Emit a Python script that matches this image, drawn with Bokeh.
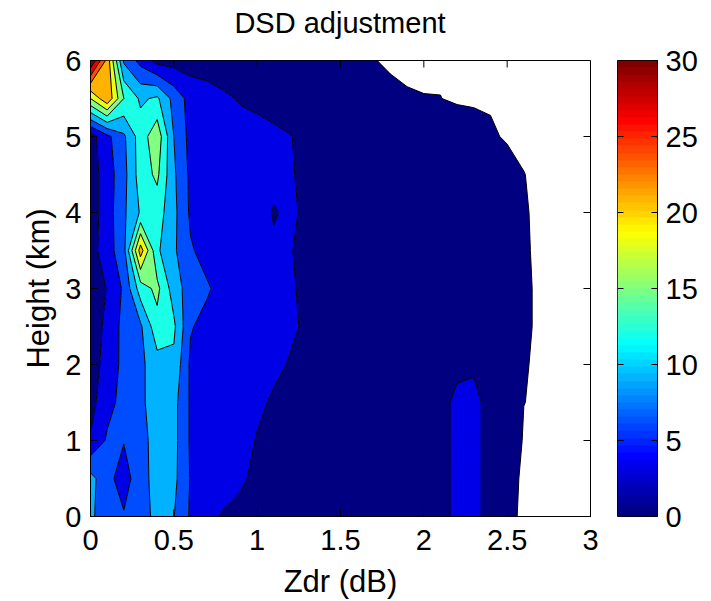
import numpy as np
from bokeh.plotting import figure
from bokeh.layouts import row, column
from bokeh.models import Range1d, FixedTicker, LinearColorMapper, Div
from bokeh.embed import file_html
from bokeh.resources import INLINE

# Zdr bin centres (dB) and height levels (km) of the frequency grid
zdr_bins = [0.0, 0.1, 0.2, 0.3, 0.4, 0.5, 0.6, 0.7, 0.8, 0.9,
            1.0, 1.1, 1.2, 1.3, 1.4, 1.5, 1.6, 1.7, 1.8, 1.9,
            2.0, 2.1, 2.2, 2.3, 2.4, 2.5, 2.6, 2.7]
height_bins = [0.0, 0.5, 1.0, 1.5, 2.0, 2.5, 3.0, 3.5, 4.0, 4.5, 5.0, 5.5, 6.0]

# Relative frequency (%) per Zdr bin, one list per height level
freq_h0_0 = [9.5, 7.5, 6.3, 7.8, 9.8, 9.1, 5.6, 3.6, 2.8, 2.6, 2.4, 2.3, 2.2, 2.2, 2.1, 2.1, 2.0, 2.0, 2.0, 2.0, 2.0, 2.6, 3.3, 3.4, 2.5, 0.5, 0, 0]
freq_h0_5 = [10.0, 7.0, 4.5, 8.0, 10.0, 9.8, 5.8, 4.6, 3.8, 3.2, 2.7, 2.5, 2.4, 2.3, 2.2, 2.2, 2.1, 2.1, 2.0, 2.0, 2.0, 2.6, 3.3, 3.4, 2.5, 0.67, 0, 0]
freq_h1_0 = [3.3, 6.4, 6.15, 7.8, 10.4, 10.0, 5.6, 4.7, 4.1, 3.6, 2.9, 2.6, 2.5, 2.4, 2.3, 2.2, 2.1, 2.1, 2.0, 2.0, 2.0, 2.6, 3.3, 3.4, 2.5, 2.0, 0, 0]
freq_h1_5 = [2.0, 5.0, 7.0, 8.4, 10.5, 10.0, 5.6, 4.8, 4.2, 3.8, 3.3, 2.8, 2.6, 2.5, 2.4, 2.3, 2.2, 2.1, 2.0, 2.0, 2.0, 2.6, 3.3, 3.4, 2.5, 1.6, 0.22, 0]
freq_h2_0 = [1.5, 4.2, 6.8, 8.3, 10.8, 11.3, 5.5, 4.9, 4.5, 4.0, 3.6, 3.3, 2.9, 2.6, 2.5, 2.4, 2.3, 2.2, 2.1, 2.0, 1.9, 1.9, 2.7, 2.8, 1.8, 1.5, 0.29, 0]
freq_h2_5 = [1.6, 3.6, 7.0, 8.5, 14.0, 12.6, 6.2, 5.2, 4.7, 4.2, 3.8, 3.5, 3.2, 2.8, 2.6, 2.5, 2.4, 2.3, 2.2, 2.1, 2.0, 1.9, 1.8, 1.8, 1.7, 1.5, 0.4, 0]
freq_h3_0 = [1.6, 3.1, 6.5, 13.5, 15.8, 10.5, 7.5, 6.3, 5.0, 4.3, 3.8, 3.4, 3.1, 2.8, 2.6, 2.5, 2.4, 2.3, 2.2, 2.1, 2.0, 1.9, 1.8, 1.8, 1.7, 1.5, 0.4, 0]
freq_h3_5 = [1.8, 4.6, 8.0, 22.5, 12.5, 9.5, 6.3, 5.0, 4.4, 4.0, 3.5, 3.2, 3.05, 2.7, 2.5, 2.4, 2.3, 2.2, 2.1, 2.0, 1.9, 1.8, 1.7, 1.6, 1.5, 1.3, 0.33, 0]
freq_h4_0 = [1.5, 4.5, 8.5, 12.3, 13.5, 9.8, 5.5, 4.7, 4.2, 3.9, 3.6, 2.9, 3.25, 2.7, 2.5, 2.4, 2.3, 2.2, 2.1, 2.0, 1.9, 1.8, 1.7, 1.6, 1.5, 1.2, 0.29, 0]
freq_h4_5 = [1.5, 4.5, 8.0, 13.5, 15.6, 9.5, 5.3, 4.6, 4.2, 3.9, 3.6, 3.4, 3.1, 2.7, 2.5, 2.4, 2.3, 2.2, 2.1, 2.0, 1.9, 1.8, 1.7, 1.6, 1.4, 1.0, 0.22, 0]
freq_h5_0 = [1.8, 5.2, 8.5, 13.5, 17.0, 9.0, 5.0, 4.5, 4.2, 3.9, 3.6, 3.3, 3.05, 2.6, 2.4, 2.3, 2.2, 2.1, 2.0, 1.9, 1.8, 1.6, 1.25, 0.83, 0.45, 0, 0, 0]
freq_h5_5 = [18.0, 23.5, 15.0, 11.5, 12.5, 8.0, 4.8, 4.2, 3.4, 2.8, 2.6, 2.4, 2.2, 2.0, 1.9, 1.6, 1.3, 0.9, 0.56, 0.29, 0.23, 0.22, 0, 0, 0, 0, 0, 0]
freq_h6_0 = [33.0, 23.0, 8.5, 5.0, 2.0, 1.8, 1.7, 1.6, 1.5, 1.4, 1.3, 1.2, 1.1, 1.0, 0.9, 0.7, 0.5, 0.25, 0, 0, 0, 0, 0, 0, 0, 0, 0, 0]

contour_levels = [0.2, 3, 6, 9, 12, 15, 18, 21, 24, 27, 30, 40]
cbar_ticks = [0, 5, 10, 15, 20, 25, 30]
x_ticks = [0, 0.5, 1, 1.5, 2, 2.5, 3]
x_tick_labels = ["0", "0.5", "1", "1.5", "2", "2.5", "3"]
y_ticks = [0, 1, 2, 3, 4, 5, 6]

freq = np.array([freq_h0_0, freq_h0_5, freq_h1_0, freq_h1_5, freq_h2_0, freq_h2_5,
                 freq_h3_0, freq_h3_5, freq_h4_0, freq_h4_5, freq_h5_0, freq_h5_5,
                 freq_h6_0], dtype=float)

CMIN, CMAX = 0.0, 30.0
X0, X1, Y0, Y1 = 0, 3, 0, 6
N_COLORS = 64


def jet(t):
    """MATLAB-style jet colormap value for t in [0, 1], as a hex string."""
    r = min(max(min(4 * t - 1.5, -4 * t + 4.5), 0.0), 1.0)
    g = min(max(min(4 * t - 0.5, -4 * t + 3.5), 0.0), 1.0)
    b = min(max(min(4 * t + 0.5, -4 * t + 2.5), 0.0), 1.0)
    return "#%02x%02x%02x" % (round(r * 255), round(g * 255), round(b * 255))


jet64 = [jet(i / (N_COLORS - 1)) for i in range(N_COLORS)]

# each filled band takes the colour of its lower bound (first band starts at 0)
band_starts = [CMIN] + contour_levels[1:-1]
band_colors = [jet(min((v - CMIN) / (CMAX - CMIN), 1.0)) for v in band_starts]

FONT = "Liberation Sans"
TITLE_H = 46
TOP, BOTTOM, LEFT, GAP = 14, 84, 90, 27
FRAME_W, FRAME_H = 500, 457
PLOT_H = TOP + FRAME_H + BOTTOM

# ---- title line, centred over the contour frame ------------------------
title = Div(text="DSD adjustment", width=2 * LEFT + FRAME_W, height=TITLE_H, margin=0,
            styles={"font-family": FONT, "font-size": "29px", "line-height": "%dpx" % TITLE_H,
                    "text-align": "center", "color": "black", "white-space": "nowrap"})

# ---- main contour panel -------------------------------------------------
p = figure(width=LEFT + FRAME_W + GAP, height=PLOT_H,
           x_range=Range1d(X0, X1), y_range=Range1d(Y0, Y1), title=None,
           output_backend="svg", toolbar_location=None,
           min_border_left=LEFT, min_border_right=GAP, min_border_top=TOP, min_border_bottom=BOTTOM,
           background_fill_color="white", border_fill_color="white")

p.contour(x=np.array(zdr_bins), y=np.array(height_bins), z=freq, levels=contour_levels,
          fill_color=band_colors, line_color="black", line_width=1.0)

p.grid.visible = False
p.outline_line_color = "black"
p.outline_line_width = 1

for ax in (p.xaxis[0], p.yaxis[0]):
    ax.major_tick_in = 7
    ax.major_tick_out = 0
    ax.minor_tick_line_color = None
    ax.axis_line_color = "black"
    ax.major_label_text_font = FONT
    ax.major_label_text_font_size = "29px"
    ax.major_label_text_color = "black"
    ax.axis_label_text_font = FONT
    ax.axis_label_text_font_size = "31px"
    ax.axis_label_text_font_style = "normal"
    ax.axis_label_text_color = "black"

p.xaxis.ticker = FixedTicker(ticks=x_ticks)
p.xaxis.major_label_overrides = {t: s for t, s in zip(x_ticks, x_tick_labels)}
p.xaxis.axis_label = "Zdr (dB)"
p.xaxis.major_label_standoff = 13
p.xaxis.axis_label_standoff = 11

p.yaxis.ticker = FixedTicker(ticks=y_ticks)
p.yaxis.axis_label = "Height (km)"
p.yaxis.major_label_standoff = 9
p.yaxis.axis_label_standoff = 6

# inward box ticks along the top and right edges of the frame
p.ray(x=x_ticks, y=[Y1] * len(x_ticks), length=7, angle=-np.pi / 2,
      length_units="screen", line_color="black", line_width=1)
p.ray(x=[X1] * len(y_ticks), y=y_ticks, length=7, angle=np.pi,
      length_units="screen", line_color="black", line_width=1)

# ---- colour bar panel ---------------------------------------------------
mapper = LinearColorMapper(palette=jet64, low=CMIN, high=CMAX)
ramp = np.linspace(CMIN, CMAX, N_COLORS).reshape(-1, 1)

cb = figure(width=94, height=PLOT_H, x_range=Range1d(0, 1), y_range=Range1d(CMIN, CMAX),
            output_backend="svg", toolbar_location=None, title=None,
            y_axis_location="right",
            min_border_left=0, min_border_right=54, min_border_top=TOP, min_border_bottom=BOTTOM,
            background_fill_color="white", border_fill_color="white")
cb.image(image=[ramp], x=0, y=CMIN, dw=1, dh=CMAX - CMIN, color_mapper=mapper)
cb.grid.visible = False
cb.xaxis.visible = False
cb.outline_line_color = "black"
cb.outline_line_width = 1

cb.yaxis.ticker = FixedTicker(ticks=cbar_ticks)
cb.yaxis.major_tick_in = 6
cb.yaxis.major_tick_out = 0
cb.yaxis.minor_tick_line_color = None
cb.yaxis.axis_line_color = "black"
cb.yaxis.major_label_standoff = 8
cb.yaxis.major_label_text_font = FONT
cb.yaxis.major_label_text_font_size = "29px"
cb.yaxis.major_label_text_color = "black"

# matching inward ticks on the left edge of the bar
cb.ray(x=[0] * len(cbar_ticks), y=cbar_ticks, length=6, angle=0,
       length_units="screen", line_color="black", line_width=1)

layout = column(title, row(p, cb, spacing=0), spacing=0)

open("out.html", "w").write(file_html(layout, INLINE))
